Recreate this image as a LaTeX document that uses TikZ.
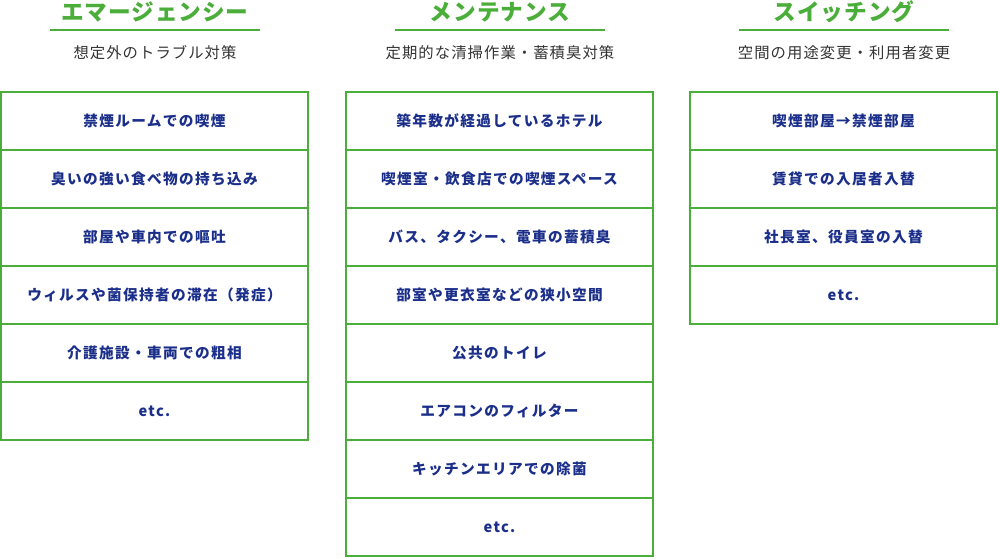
\documentclass[tikz,border=0pt]{standalone}
\usepackage{fontspec}
\setmainfont{Noto Sans CJK JP}
\newfontfamily\itemfont[LetterSpace=9]{Noto Sans CJK JP}
\newfontfamily\subfont[LetterSpace=7]{Noto Sans CJK JP}
\newfontfamily\headfont[LetterSpace=4]{Noto Sans CJK JP}
\definecolor{leaf}{HTML}{4BAE3A}
\definecolor{navy}{HTML}{1B2F8A}
\definecolor{ink}{HTML}{333333}
\usetikzlibrary{positioning}

\begin{document}
\begin{tikzpicture}[x=0.75pt,y=-0.75pt,
                    cell/.style={draw=leaf,line width=1.5pt,minimum width=230.25pt,minimum height=43.5pt,
                                 inner sep=0pt,outer sep=0pt,text=navy,font=\itemfont\bfseries\fontsize{11}{13}\selectfont},
                    head/.style={text=leaf,font=\headfont\bfseries\fontsize{17}{19}\selectfont,inner sep=0pt},
                    sub/.style={text=ink,font=\subfont\fontsize{11.5}{13}\selectfont,inner sep=0pt},
                    rule/.style={leaf,line width=1.5pt}]
  \useasboundingbox (0,0) rectangle (999,557);
  % column headings
  \node[head] (eh) at (155,12) {エマージェンシー};
  \node[head] (mh) at (500,12) {メンテナンス};
  \node[head] (sh) at (844,12) {スイッチング};
  \draw[rule] (50,30) -- (260,30);
  \draw[rule] (395,30) -- (605,30);
  \draw[rule] (739,30) -- (949,30);
  \node[sub] (es) at (155,53) {想定外のトラブル対策};
  \node[sub] (ms) at (500,53) {定期的な清掃作業・蓄積臭対策};
  \node[sub] (ss) at (844,53) {空間の用途変更・利用者変更};
  % emergency
  \node[cell] (e1) at (154.5,121) {禁煙ルームでの喫煙};
  \foreach \txt [count=\i from 2] in {臭いの強い食べ物の持ち込み,部屋や車内での嘔吐,
      ウィルスや菌保持者の滞在（発症）,介護施設・車両での粗相,etc.}{
    \pgfmathtruncatemacro\j{\i-1}
    \node[cell] (e\i) [below=0pt of e\j] {\txt};
  }
  % maintenance
  \node[cell] (m1) at (499.5,121) {築年数が経過しているホテル};
  \foreach \txt [count=\i from 2] in {喫煙室・飲食店での喫煙スペース,バス、タクシー、電車の蓄積臭,
      部室や更衣室などの狭小空間,公共のトイレ,エアコンのフィルター,キッチンエリアでの除菌,etc.}{
    \pgfmathtruncatemacro\j{\i-1}
    \node[cell] (m\i) [below=0pt of m\j] {\txt};
  }
  % switching
  \node[cell] (s1) at (843.5,121) {喫煙部屋→禁煙部屋};
  \foreach \txt [count=\i from 2] in {賃貸での入居者入替,社長室、役員室の入替,etc.}{
    \pgfmathtruncatemacro\j{\i-1}
    \node[cell] (s\i) [below=0pt of s\j] {\txt};
  }
\end{tikzpicture}
\end{document}
